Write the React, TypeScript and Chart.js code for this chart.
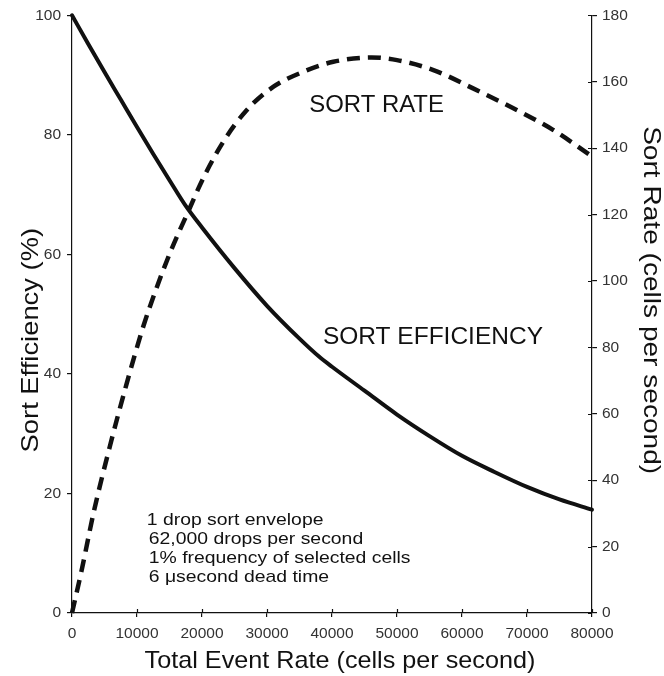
import React, { useEffect, useRef } from "react";
import { Chart, registerables } from "chart.js";

Chart.register(...registerables);

// ---- data ----
const efficiencyX = [0, 2500, 5000, 7500, 10000, 12500, 15000, 17500, 20000, 25000, 30000, 35000, 38000, 40000, 45000, 50000, 55000, 60000, 65000, 70000, 75000, 80000];
const efficiencyY = [100, 95.2, 90.5, 85.9, 81.3, 76.8, 72.4, 68.1, 64.5, 57.7, 51.4, 45.9, 42.9, 41.2, 37.2, 33.2, 29.6, 26.3, 23.6, 21.1, 19.0, 17.3];

const rateX = [0, 1500, 3300, 5800, 8400, 11000, 13500, 15300, 17900, 20200, 23300, 26900, 31000, 35600, 40200, 46100, 50000, 55600, 61700, 67900, 74000, 80000];
const rateY = [0, 13, 30, 50, 69, 86.5, 100.5, 109.5, 121, 131, 142, 151.5, 158.5, 163, 166, 167.3, 166.5, 163.5, 158, 152, 145.5, 137.5];

const xAxisRange = [0, 80000];
const xStep = 10000;
const effAxisRange = [0, 100];
const effStep = 20;
const rateAxisRange = [0, 180];
const rateStep = 20;

const xTitle = "Total Event Rate (cells per second)";
const leftTitle = "Sort Efficiency (%)";
const rightTitle = "Sort Rate (cells per second)";
const rateLabel = "SORT RATE";
const effLabel = "SORT EFFICIENCY";
const noteLines = [
  "1 drop sort envelope",
  "62,000 drops per second",
  "1% frequency of selected cells",
  "6 \u03BCsecond dead time",
];

// ---- layout / style ----
const W = 664;
const H = 676;
const FONT = "'Liberation Sans', Arial, Helvetica, sans-serif";
const INK = "#111";

const rateLabelPos = { x: 36500, y: 83.8 }; // in data units (x, left axis)
const effLabelPos = { x: 38600, y: 45.0 };
const notePos = { x: 11500, y: 14.8 };

function drawText(
  ctx: CanvasRenderingContext2D,
  text: string,
  x: number,
  y: number,
  size: number,
  stretch: number,
  rotation: number,
  align: CanvasTextAlign,
  baseline: CanvasTextBaseline,
  color: string
) {
  ctx.save();
  ctx.translate(x, y);
  ctx.rotate(rotation);
  ctx.scale(stretch, 1);
  ctx.font = `${size}px ${FONT}`;
  ctx.fillStyle = color;
  ctx.textAlign = align;
  ctx.textBaseline = baseline;
  ctx.fillText(text, 0, 0);
  ctx.restore();
}

const overlayPlugin = {
  id: "overlay",
  afterDraw(chart: any) {
    const { ctx, chartArea, scales } = chart;
    const { right, top, bottom } = chartArea;
    const sx = scales.x;
    const sy = scales.y;
    const sy2 = scales.y2;

    // inward tick marks
    ctx.save();
    ctx.strokeStyle = INK;
    ctx.lineWidth = 1.2;
    ctx.beginPath();
    sx.ticks.forEach((t: any) => {
      const px = Math.round(sx.getPixelForValue(t.value)) + 0.5;
      ctx.moveTo(px, bottom);
      ctx.lineTo(px, bottom - 4);
    });
    sy2.ticks.forEach((t: any) => {
      const py = Math.round(sy2.getPixelForValue(t.value)) + 0.5;
      ctx.moveTo(right, py);
      ctx.lineTo(right - 4, py);
    });
    ctx.stroke();
    ctx.restore();

    // axis titles
    const midY = (top + bottom) / 2;
    drawText(ctx, xTitle, 340, 668, 24, 1.05, 0, "center", "alphabetic", INK);
    drawText(ctx, leftTitle, 31, midY + 26, 24, 1.14, -Math.PI / 2, "center", "middle", INK);
    drawText(ctx, rightTitle, 651, midY - 14, 24, 1.17, Math.PI / 2, "center", "middle", INK);

    // curve labels
    drawText(ctx, rateLabel, sx.getPixelForValue(rateLabelPos.x), sy.getPixelForValue(rateLabelPos.y), 23, 1.04, 0, "left", "alphabetic", INK);
    drawText(ctx, effLabel, sx.getPixelForValue(effLabelPos.x), sy.getPixelForValue(effLabelPos.y), 24.5, 1.0, 0, "left", "alphabetic", INK);

    // note block
    const nx = sx.getPixelForValue(notePos.x);
    const ny = sy.getPixelForValue(notePos.y);
    noteLines.forEach((line, i) => {
      drawText(ctx, line, nx + (i === 0 ? 0 : 2), ny + i * 19.1, 17, 1.14, 0, "left", "alphabetic", INK);
    });
  },
};

export default function App() {
  const canvasRef = useRef<HTMLCanvasElement | null>(null);

  useEffect(() => {
    const canvas = canvasRef.current;
    if (!canvas) return;

    const tickFont = { family: FONT, size: 15.5 };
    const axisCommon = {
      border: { display: true, color: INK, width: 1.2 },
    };

    const chart = new Chart(canvas, {
      type: "line",
      data: {
        datasets: [
          {
            label: "Sort Efficiency",
            data: efficiencyX.map((x, i) => ({ x, y: efficiencyY[i] })),
            yAxisID: "y",
            borderColor: "#111",
            borderWidth: 4,
            pointRadius: 0,
            cubicInterpolationMode: "monotone",
            borderCapStyle: "round",
            borderJoinStyle: "round",
            fill: false,
            clip: 6,
          },
          {
            label: "Sort Rate",
            data: rateX.map((x, i) => ({ x, y: rateY[i] })),
            yAxisID: "y2",
            borderColor: "#111",
            borderWidth: 4.5,
            borderDash: [13, 8],
            borderCapStyle: "butt",
            pointRadius: 0,
            cubicInterpolationMode: "monotone",
            fill: false,
            clip: 6,
          },
        ],
      } as any,
      options: {
        responsive: false,
        animation: false,
        devicePixelRatio: 1,
        layout: { padding: { top: 15, left: 0, right: 0, bottom: 0 } },
        plugins: {
          legend: { display: false },
          tooltip: { enabled: false },
          title: { display: false },
        },
        scales: {
          x: {
            type: "linear",
            position: "bottom",
            min: xAxisRange[0],
            max: xAxisRange[1],
            ticks: {
              stepSize: xStep,
              callback: (v: any) => String(v),
              font: tickFont,
              color: "#333",
              padding: 7,
              maxRotation: 0,
              autoSkip: false,
            },
            grid: { drawOnChartArea: false, drawTicks: true, tickLength: 4, color: INK, lineWidth: 1.2 },
            ...axisCommon,
            afterFit: (s: any) => {
              s.height = 63;
            },
          },
          y: {
            type: "linear",
            position: "left",
            min: effAxisRange[0],
            max: effAxisRange[1],
            ticks: {
              stepSize: effStep,
              callback: (v: any) => String(v),
              font: tickFont,
              color: "#333",
              padding: 6,
            },
            grid: { drawOnChartArea: false, drawTicks: true, tickLength: 5, color: INK, lineWidth: 1.2 },
            ...axisCommon,
            afterFit: (s: any) => {
              s.width = 72;
            },
          },
          y2: {
            type: "linear",
            position: "right",
            min: rateAxisRange[0],
            max: rateAxisRange[1],
            ticks: {
              stepSize: rateStep,
              callback: (v: any) => String(v),
              font: tickFont,
              color: "#333",
              padding: 5,
            },
            grid: { drawOnChartArea: false, drawTicks: true, tickLength: 5, color: INK, lineWidth: 1.2 },
            ...axisCommon,
            afterFit: (s: any) => {
              s.width = 72;
            },
          },
        },
      } as any,
      plugins: [overlayPlugin],
    });

    return () => {
      chart.destroy();
    };
  }, []);

  return (
    <div style={{ position: "fixed", left: 0, top: 0, width: W, height: H, background: "#fff" }}>
      <canvas ref={canvasRef} width={W} height={H} style={{ display: "block", width: W, height: H }} />
    </div>
  );
}
